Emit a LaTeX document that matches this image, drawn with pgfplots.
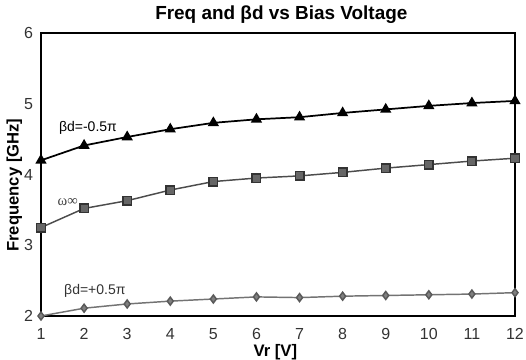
\documentclass[border=0pt]{standalone}
\usepackage{pgfplots}
\pgfplotsset{compat=1.18}
\usepackage{fontspec}
\setmainfont{Liberation Sans}
\newfontfamily\seriffont{Liberation Serif}
\begin{document}
\begin{tikzpicture}
\useasboundingbox (-30.75pt,-33pt) rectangle (363.75pt,237pt);
\begin{axis}[
  scale only axis,
  width=355.5pt, height=212.25pt,
  at={(0,0)}, anchor=south west,
  xmin=1, xmax=12, ymin=2, ymax=6,
  xtick={1,...,12}, ytick={2,3,4,5,6},
  major tick length=0pt,
  /pgf/number format/assume math mode=true,
  ticklabel style={font=\fontsize{12}{12}\selectfont, text=black!80},
  xticklabel style={yshift=-5.5pt},
  yticklabel style={xshift=-2.5pt},
  axis line style={black, line width=0.9pt},
  title={\bfseries Freq and βd vs Bias Voltage},
  title style={font=\fontsize{14.2}{15}\selectfont, at={(axis description cs:0.5,1)}, anchor=center, yshift=8pt, xshift=2.5pt},
  xlabel={\bfseries Vr [V]},
  ylabel={\bfseries Frequency [GHz]},
  xlabel style={font=\fontsize{12.5}{13}\selectfont, at={(axis description cs:0.5,0)}, anchor=center, yshift=-27pt, xshift=-2pt},
  ylabel style={font=\fontsize{12.5}{13}\selectfont, at={(axis description cs:0,0.5)}, anchor=center, yshift=20pt, xshift=-8pt},
  clip=false,
]
\addplot[black, line width=1.3pt, mark=triangle*, mark size=3.6pt, mark options={fill=black}] coordinates {
(1,4.20) (2,4.41) (3,4.53) (4,4.64) (5,4.73) (6,4.78) (7,4.81) (8,4.87) (9,4.92) (10,4.97) (11,5.01) (12,5.04)};
\addplot[black!70, line width=1.1pt, mark=square*, mark size=3.2pt, mark options={fill=black!60, draw=black!80}] coordinates {
(1,3.25) (2,3.52) (3,3.63) (4,3.78) (5,3.90) (6,3.95) (7,3.98) (8,4.03) (9,4.09) (10,4.14) (11,4.19) (12,4.23)};
\addplot[black!55, line width=1.1pt, mark=diamond*, mark size=3pt, mark options={fill=black!50, draw=black!65}] coordinates {
(1,2.00) (2,2.11) (3,2.17) (4,2.21) (5,2.24) (6,2.27) (7,2.26) (8,2.28) (9,2.29) (10,2.30) (11,2.31) (12,2.33)};
\node[font=\fontsize{10.5}{11}\selectfont] at (axis cs:2.09,4.66) {βd=-0.5π};
\node[font=\seriffont\fontsize{11}{11}\selectfont, text=black!75] at (axis cs:1.62,3.61) {ω∞};
\node[font=\fontsize{10.5}{11}\selectfont, text=black!80] at (axis cs:2.25,2.35) {βd=+0.5π};
\end{axis}
\end{tikzpicture}
\end{document}
